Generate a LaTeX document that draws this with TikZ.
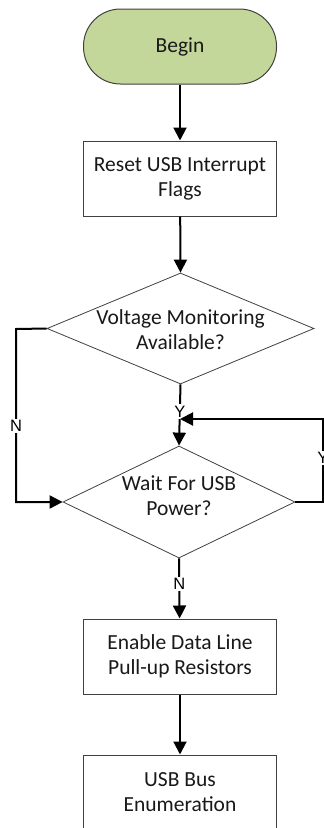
\documentclass[tikz,border=0pt]{standalone}
\usepackage{fontspec}
\setmainfont{Carlito}
\newfontfamily\lblfont{Liberation Sans}
\usetikzlibrary{shapes.geometric,arrows.meta}
\definecolor{termfill}{RGB}{196,215,155}
\definecolor{edge}{RGB}{64,64,64}
\begin{document}
\begin{tikzpicture}[x=1pt,y=-1pt,
  every node/.style={font=\fontsize{21.5}{25}\selectfont, text=black!90},
  terminal/.style={draw=edge, line width=1pt, fill=termfill, rounded corners=37pt,
    minimum width=193pt, minimum height=75pt, inner sep=0pt},
  procbox/.style={draw=edge, line width=1pt, fill=white, minimum width=193pt,
    minimum height=75pt, align=center, inner sep=0pt},
  decision/.style={draw=edge, line width=0.8pt, shape=diamond, inner sep=0pt},
  flow/.style={line width=2pt, draw=black, -{Triangle[length=13pt,width=13pt]}},
  lbl/.style={font=\lblfont\fontsize{16.5}{16.5}\selectfont, fill=white, inner sep=1.5pt, text=black},
  dtext/.style={align=center, inner sep=0pt}
]
\useasboundingbox (0,0) rectangle (324,828);

\node[terminal] (begin) at (180,46.5) {Begin};
\node[procbox] (reset) at (180,178.5) {Reset USB Interrupt\\Flags};
\node[decision, minimum width=267pt, minimum height=111pt] (d1) at (180.5,328.5) {};
\node[dtext] at (180.5,330) {Voltage Monitoring\\Available?};
\node[decision, minimum width=232pt, minimum height=112pt] (d2) at (179,502) {};
\node[dtext] at (179,496) {Wait For USB\\Power?};
\node[procbox] (enable) at (180,656.5) {Enable Data Line\\Pull-up Resistors};
\node[procbox] (enum) at (180,792.5) {USB Bus\\Enumeration};

\coordinate (join) at (180,419);
\coordinate (rc) at (323,419);
\coordinate (lc) at (16,329);

\draw[flow] (begin) -- (reset);
\draw[flow] (reset) -- (d1.north);
\draw[flow] (d1.south) -- node[lbl, pos=0.44] {Y} (d2.north);
\draw[flow] (d2.east) -| node[lbl, pos=0.765] {Y} (rc) -- (join);
\draw[flow] (d1.west) -- (lc) |- node[lbl, pos=0.28] {N} (d2.west);
\draw[flow] (d2.south) -- node[lbl, pos=0.43] {N} (enable);
\draw[flow] (enable) -- (enum);
\end{tikzpicture}
\end{document}
